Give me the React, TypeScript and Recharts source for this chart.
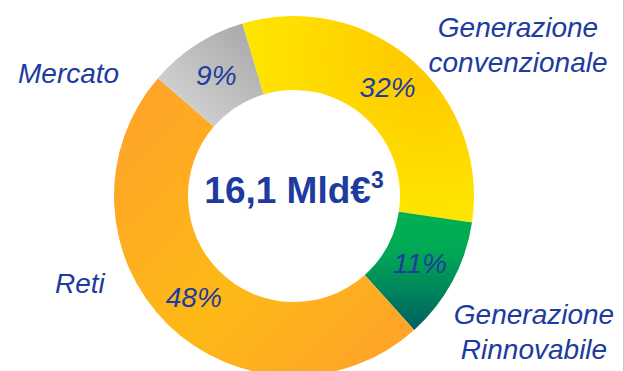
import React from "react";
import { Cell, Pie, PieChart } from "recharts";

// investment split by business line
const categories = [
  "Generazione convenzionale",
  "Generazione Rinnovabile",
  "Reti",
  "Mercato",
];
const shares = [32, 11, 48, 9];
const nameLines = [
  ["Generazione", "convenzionale"],
  ["Generazione", "Rinnovabile"],
  ["Reti"],
  ["Mercato"],
];
const totalText = "16,1 Mld€";
const totalSup = "3";

const fills = ["url(#gConv)", "url(#gRinn)", "url(#gReti)", "url(#gMerc)"];

// where the outside names sit
const namePos = [
  { x: 518, y: 37, anchor: "middle" },
  { x: 534, y: 324, anchor: "middle" },
  { x: 55, y: 293, anchor: "start" },
  { x: 18, y: 83, anchor: "start" },
];

const BLUE = "#1d3c9e";
const FONT = "'Liberation Sans', Arial, sans-serif";
const RAD = Math.PI / 180;

const data = categories.map((name, i) => ({
  name,
  value: shares[i],
  lines: nameLines[i],
}));

const renderLabel = (props: any) => {
  const { cx, cy, midAngle, innerRadius, outerRadius, index, value } = props;
  const r = (innerRadius + outerRadius) / 2;
  const x = cx + r * Math.cos(-midAngle * RAD);
  const y = cy + r * Math.sin(-midAngle * RAD);
  const pos = namePos[index];
  return (
    <g key={`lbl-${index}`}>
      <text
        x={x}
        y={y}
        textAnchor="middle"
        dominantBaseline="central"
        fontFamily={FONT}
        fontStyle="italic"
        fontSize={28}
        fill={BLUE}
      >
        {value}%
      </text>
      <text
        x={pos.x}
        y={pos.y}
        textAnchor={pos.anchor}
        fontFamily={FONT}
        fontStyle="italic"
        fontSize={28}
        fill={BLUE}
      >
        {nameLines[index].map((line, j) => (
          <tspan key={j} x={pos.x} dy={j === 0 ? 0 : 35}>
            {line}
          </tspan>
        ))}
      </text>
      {index === 0 && (
        // total in the hole of the donut
        <text
          x={cx}
          y={cy + 7}
          textAnchor="middle"
          fontFamily={FONT}
          fontWeight="bold"
          fontSize={37}
          fill={BLUE}
        >
          {totalText}
          <tspan fontSize={23} dy={-15}>
            {totalSup}
          </tspan>
        </text>
      )}
    </g>
  );
};

export default function App() {
  return (
    <div
      style={{
        width: 623,
        height: 371,
        borderRight: "1px solid #c4c4c4",
        overflow: "hidden",
        background: "#fff",
      }}
    >
      <style>{`body{margin:0}`}</style>
      <PieChart
        width={622}
        height={371}
        margin={{ top: 0, right: 0, bottom: 0, left: 0 }}
      >
        <defs>
          <radialGradient id="gConv" cx="0.8" cy="0.2" r="0.9">
            <stop offset="0%" stopColor="#ffc600" />
            <stop offset="100%" stopColor="#ffea00" />
          </radialGradient>
          <linearGradient id="gRinn" x1="0" y1="0" x2="0" y2="1">
            <stop offset="0%" stopColor="#00b050" />
            <stop offset="35%" stopColor="#00a855" />
            <stop offset="100%" stopColor="#005f62" />
          </linearGradient>
          <linearGradient id="gReti" x1="0" y1="0" x2="1" y2="1">
            <stop offset="0%" stopColor="#ffa02c" />
            <stop offset="55%" stopColor="#fdb916" />
            <stop offset="100%" stopColor="#ffa02e" />
          </linearGradient>
          <linearGradient id="gMerc" x1="1" y1="0" x2="0" y2="1">
            <stop offset="0%" stopColor="#a4a4a4" />
            <stop offset="100%" stopColor="#dcdcdc" />
          </linearGradient>
        </defs>
        <Pie
          data={data}
          dataKey="value"
          nameKey="name"
          cx={294}
          cy={196}
          innerRadius={106}
          outerRadius={180}
          startAngle={106.7}
          endAngle={-253.3}
          stroke="none"
          labelLine={false}
          label={renderLabel}
          isAnimationActive={false}
        >
          {data.map((d, i) => (
            <Cell key={d.name} fill={fills[i]} />
          ))}
        </Pie>
      </PieChart>
    </div>
  );
}
